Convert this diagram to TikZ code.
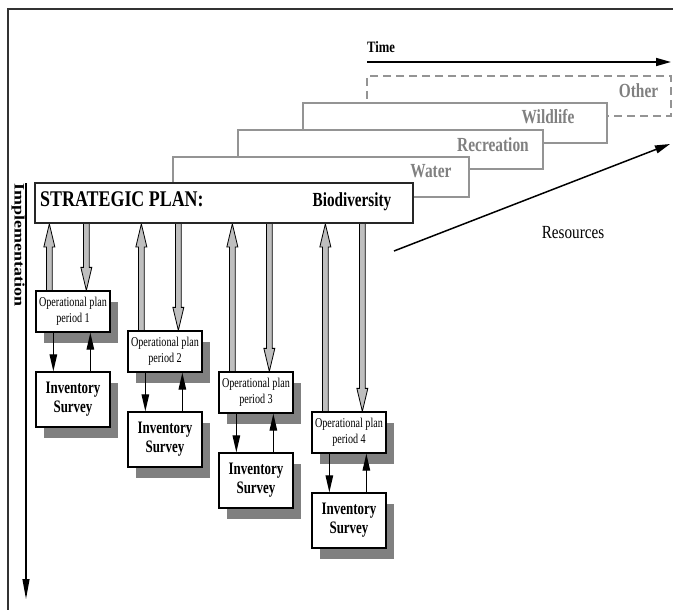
\documentclass[tikz,border=0pt]{standalone}
\usepackage{fontspec}
\setmainfont{Liberation Serif}
\usepackage{graphicx}
\usetikzlibrary{arrows.meta,calc,shadows}
\pgfdeclarelayer{background}
\pgfsetlayers{background,main}
\newcommand\cz[2][0.8]{\scalebox{#1}[1]{#2}}
\newcommand\fatup[2]{\filldraw[fatstyle] ($(#1)+(-2.8,0)$) -- ($(#2)+(-2.8,23)$) -- ($(#2)+(-5.5,23)$) -- (#2) -- ($(#2)+(5.5,23)$) -- ($(#2)+(2.8,23)$) -- ($(#1)+(2.8,0)$);}
\newcommand\fatdown[2]{\filldraw[fatstyle] ($(#1)+(-2.8,0)$) -- ($(#2)+(-2.8,-23)$) -- ($(#2)+(-5.5,-23)$) -- (#2) -- ($(#2)+(5.5,-23)$) -- ($(#2)+(2.8,-23)$) -- ($(#1)+(2.8,0)$);}
\begin{document}
\begin{tikzpicture}[x=1pt,y=-1pt,
  stackbox/.style={draw=black!42, line width=1.6pt, fill=white, minimum height=40pt, inner sep=0pt},
  stacklabel/.style={text=black!50, font=\fontsize{20}{23}\selectfont\bfseries, anchor=base, inner sep=0pt},
  opbox/.style={draw=black, line width=1.3pt, fill=white, minimum width=74pt, minimum height=41pt, inner sep=0pt,
     general shadow={fill=black!50, shadow xshift=8pt, shadow yshift=-11pt}, font=\fontsize{13.5}{16}\selectfont},
  invbox/.style={opbox, minimum height=55pt, font=\fontsize{17.5}{18.5}\selectfont\bfseries},
  small/.style={line width=1.2pt, -{Triangle[length=17pt,width=7.5pt]}},
  bigarrow/.style={line width=1.5pt, -{Triangle[length=15pt,width=8pt]}},
  fatstyle/.style={fill=black!25, draw=black, line width=0.8pt, line join=miter}]
\useasboundingbox (0,0) rectangle (673,610);
% frame
\coordinate (f0) at (8,610);
\coordinate (f1) at (8,9);
\coordinate (f2) at (673,9);
\draw[black!80, line width=1.2pt] (f0) -- (f1) -- (f2);
% time
\coordinate (t0) at (367,62);
\coordinate (t1) at (671,62);
\draw[bigarrow] (t0) -- (t1);
\node[anchor=base west, inner sep=0pt, font=\fontsize{15.8}{18}\selectfont\bfseries] (time) at (367,53) {\cz{Time}};
% stack
\node[stackbox, dashed, dash pattern=on 8pt off 5pt, minimum width=304pt] (other) at (519,96) {};
\node[stacklabel] (lother) at (638.5,98) {\cz[0.77]{Other}};
\node[stackbox, minimum width=304pt] (wild) at (455,123) {};
\node[stacklabel] (lwild) at (548,124) {\cz[0.77]{Wildlife}};
\node[stackbox, minimum width=305pt, minimum height=39pt] (recr) at (390.5,149.5) {};
\node[stacklabel] (lrecr) at (493,152) {\cz[0.77]{Recreation}};
\node[stackbox, minimum width=296pt] (water) at (321,177) {};
\node[stacklabel] (lwater) at (431,178) {\cz[0.77]{Water}};
% strategic plan
\node[draw=black!85, line width=1.8pt, fill=white, minimum width=378pt, minimum height=40pt, inner sep=0pt] (strat) at (224,203) {};
\node[anchor=base west, inner sep=0pt, font=\fontsize{22.4}{26}\selectfont\bfseries] (stxt) at (40,206) {\cz{STRATEGIC PLAN:}};
\node[anchor=base, inner sep=0pt, font=\fontsize{20}{23}\selectfont\bfseries] (btxt) at (352,206) {\cz[0.76]{Biodiversity}};
% resources
\coordinate (r0) at (394,251);
\coordinate (r1) at (670,144);
\draw[bigarrow] (r0) -- (r1);
\node[anchor=base, inner sep=0pt, font=\fontsize{18.5}{22}\selectfont] (res) at (573,238) {\cz[0.82]{Resources}};
% implementation
\coordinate (i0) at (26,183);
\coordinate (i1) at (26,599);
\draw[line width=1.2pt, -{Triangle[length=20pt,width=7pt]}] (i0) -- (i1);
\node[rotate=-90, anchor=west, inner sep=0pt, font=\fontsize{18}{20}\selectfont\bfseries] (impl) at (18,183) {\scalebox{1}[0.8]{Implementation}};
% columns
\foreach \i/\L/\T in {1/36/291, 2/128/331, 3/219/372, 4/312/412}{
  \node[opbox] (op\i) at ({\L+37},{\T+20.5}) {\cz[0.75]{\begin{tabular}{@{}c@{}}Operational plan\\period \i\end{tabular}}};
  \node[invbox] (inv\i) at ({\L+37},{\T+108.5}) {\cz[0.74]{\begin{tabular}{@{}c@{}}Inventory\\Survey\end{tabular}}};
  \draw[small] ($(op\i.south west)+(18,0)$) -- ($(inv\i.north west)+(18,0)$);
  \draw[small] ($(inv\i.north west)+(55,0)$) -- ($(op\i.south west)+(55,0)$);
  \coordinate (ub\i) at ($(op\i.north west)+(14,0)$);
  \coordinate (ut\i) at (ub\i |- strat.south);
  \coordinate (dt\i) at ($(op\i.north west)+(51,0)$);
  \coordinate (db\i) at (dt\i |- strat.south);
}
\begin{pgfonlayer}{background}
\foreach \i in {1,2,3,4}{
  \fatup{ub\i}{ut\i}
  \fatdown{db\i}{dt\i}
}
\end{pgfonlayer}
\end{tikzpicture}
\end{document}
